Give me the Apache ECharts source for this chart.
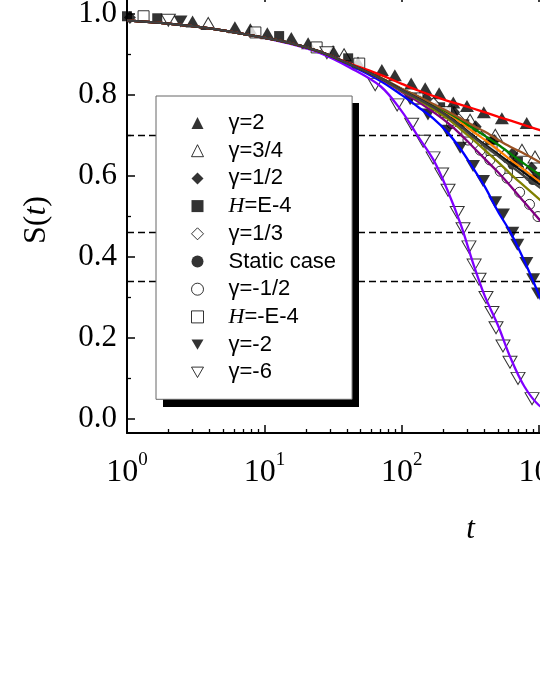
<!DOCTYPE html>
<html><head><meta charset="utf-8">
<script src="https://cdn.jsdelivr.net/npm/echarts@6/dist/echarts.min.js"></script>
<style>
html,body{margin:0;padding:0;width:540px;height:699px;overflow:hidden;background:#fff}
#c{position:absolute;left:0;top:-30px;width:900px;height:760px}
</style></head>
<body><div id="c"></div>
<script>
// ---------- data ----------
const seriesNames = ['γ=2','γ=3/4','γ=1/2','H=E-4','γ=1/3','Static case','γ=-1/2','H=-E-4','γ=-2','γ=-6'];

// fitted curves, sampled at fitT
const fitT = [1,2,4,8,15,25,42,70,100,130,170,215,270,330,400,500,620,780,1000,1300];
const fitG2    = [0.985,0.977,0.965,0.948,0.930,0.908,0.878,0.850,0.828,0.812,0.798,0.786,0.776,0.767,0.758,0.747,0.737,0.726,0.714,0.703];
const fitG34   = [0.985,0.977,0.965,0.948,0.930,0.908,0.876,0.843,0.816,0.798,0.778,0.760,0.742,0.725,0.710,0.690,0.672,0.655,0.635,0.615];
const fitG12   = [0.985,0.977,0.965,0.948,0.930,0.908,0.876,0.843,0.815,0.797,0.776,0.758,0.738,0.718,0.700,0.678,0.655,0.630,0.604,0.578];
const fitHp    = [0.985,0.977,0.965,0.948,0.930,0.908,0.876,0.843,0.814,0.795,0.773,0.755,0.732,0.710,0.690,0.665,0.640,0.615,0.587,0.560];
const fitG13   = [0.985,0.977,0.965,0.948,0.930,0.908,0.876,0.842,0.813,0.793,0.771,0.749,0.724,0.700,0.678,0.655,0.632,0.608,0.580,0.553];
const fitStat  = [0.985,0.977,0.965,0.948,0.930,0.908,0.876,0.842,0.812,0.792,0.770,0.748,0.722,0.697,0.675,0.650,0.625,0.600,0.573,0.545];
const fitHm    = [0.985,0.977,0.965,0.948,0.930,0.908,0.876,0.841,0.810,0.790,0.765,0.742,0.715,0.690,0.665,0.635,0.605,0.575,0.543,0.510];
const fitGm12  = [0.985,0.977,0.965,0.948,0.930,0.908,0.876,0.840,0.808,0.785,0.758,0.732,0.702,0.672,0.643,0.610,0.575,0.535,0.493,0.450];
const fitGm2   = [0.985,0.977,0.965,0.948,0.930,0.908,0.874,0.835,0.800,0.772,0.742,0.708,0.665,0.620,0.575,0.513,0.460,0.390,0.305,0.210];
const fitGm6   = [0.985,0.977,0.965,0.948,0.928,0.905,0.868,0.822,0.760,0.700,0.640,0.565,0.478,0.385,0.305,0.232,0.150,0.080,0.033,0.012];

// measured markers
const tG2   = [3.0,6.1,7.9,10.5,15.7,20.8,31.6,48,71.6,89,117,148,187,237,298,395,535,811];
const sG2   = [0.982,0.968,0.963,0.953,0.941,0.928,0.909,0.881,0.862,0.849,0.829,0.817,0.805,0.782,0.773,0.758,0.743,0.731];
const tG34  = [3.9,38,231,314,479,749,932];
const sG34  = [0.977,0.900,0.759,0.738,0.701,0.664,0.647];
const tG12  = [1.05,150,240,345,470,640,880];
const sG12  = [0.992,0.792,0.758,0.722,0.688,0.655,0.620];
const tHp   = [1,1.66,12.8,40.7,190,285,440,700,950];
const sHp   = [0.995,0.990,0.946,0.891,0.770,0.728,0.685,0.635,0.598];
const tG13  = [170,260,380,560,820];
const sG13  = [0.778,0.738,0.695,0.650,0.605];
const tStat = [200,300,450,640,900];
const sStat = [0.758,0.712,0.668,0.628,0.590];
const tGm12 = [130,230,303,372,437,520,583,720,850,980];
const sGm12 = [0.790,0.730,0.689,0.664,0.640,0.612,0.595,0.560,0.530,0.500];
const tHm   = [1.32,8.6,24,49,130,210,300,450,700];
const sHm   = [0.995,0.955,0.918,0.878,0.792,0.758,0.710,0.665,0.610];
const tGm2  = [2.45,115,155,214,266,330,390,478,545,637,693,806,903,980];
const sGm2  = [0.982,0.790,0.752,0.712,0.670,0.625,0.588,0.535,0.505,0.460,0.430,0.385,0.345,0.310];
const tGm6  = [2.0,28.5,64,92.5,118,143,169,195,217,253,279,308,336,365,410,453,485,545,613,701,887];
const sGm6  = [0.985,0.905,0.826,0.776,0.728,0.686,0.645,0.605,0.565,0.510,0.470,0.425,0.380,0.345,0.300,0.263,0.225,0.180,0.140,0.100,0.050];

const dashedLevels = [0.698, 0.463, 0.338];
const yMajorTicks = [0, 0.2, 0.4, 0.6, 0.8, 1.0];
const yMinorTicks = [0.1, 0.3, 0.5, 0.7, 0.9];
const xMinorTicks = [];
for (let d = 1; d <= 10000; d *= 10) for (let k = 2; k <= 9; k++) xMinorTicks.push(k * d);

// ---------- styling ----------
const DOWN = 'path://M0,0L2,0L1,1.732Z';
const markerDefs = [
  {t:tG2,  s:sG2,  sym:'triangle', size:[14,12],   open:false},
  {t:tG34, s:sG34, sym:'triangle', size:[14,12],   open:true},
  {t:tG12, s:sG12, sym:'diamond',  size:[12,13],   open:false},
  {t:tHp,  s:sHp,  sym:'rect',     size:10,        open:false},
  {t:tG13, s:sG13, sym:'diamond',  size:[12,13],   open:true},
  {t:tStat,s:sStat,sym:'circle',   size:10,        open:false},
  {t:tGm12,s:sGm12,sym:'circle',   size:10,        open:true},
  {t:tHm,  s:sHm,  sym:'rect',     size:11,        open:true},
  {t:tGm2, s:sGm2, sym:DOWN,       size:[14,12],   open:false},
  {t:tGm6, s:sGm6, sym:DOWN,       size:[14,12],   open:true}
];
// draw order of fit lines (last on top)
const fitDefs = [
  {s:fitGm6, c:'#8000ff'},
  {s:fitGm2, c:'#0000ff'},
  {s:fitGm12,c:'#800080'},
  {s:fitHm,  c:'#808000'},
  {s:fitHp,  c:'#ff8000'},
  {s:fitG12, c:'#008000'},
  {s:fitG34, c:'#9a5223'},
  {s:fitG2,  c:'#ff0000'},
  {s:fitG13, c:'#111111'},
  {s:fitStat,c:'#404040'}
];

const series = [];
markerDefs.forEach((m, i) => {
  series.push({
    type:'scatter', name: seriesNames[i], z:2,
    symbol: m.sym, symbolSize: m.size,
    itemStyle: m.open ? {color:'#fff', borderColor:'#000', borderWidth:1} : {color:'#000'},
    data: m.t.map((t, j) => [t, m.s[j]])
  });
});
fitDefs.forEach((f, i) => {
  const s = {
    type:'line', name:'fit' + i, z:3, symbol:'none', smooth:0.35,
    lineStyle:{color:f.c, width:2.3}, itemStyle:{color:f.c},
    data: fitT.map((t, j) => [t, f.s[j]])
  };
  if (i === 0) {
    s.markLine = {
      silent:true, symbol:'none', label:{show:false}, z:1,
      lineStyle:{color:'#000', width:1.3, type:[7,4]},
      data: dashedLevels.map(v => ({yAxis:v}))
    };
  }
  series.push(s);
});

const serif = 'Liberation Serif';
const logAxisBase = {type:'log', logBase:10, min:1, max:100000, splitLine:{show:false}};
const chart = echarts.init(document.getElementById('c'), null, {renderer:'canvas'});
chart.setOption({
  animation:false,
  backgroundColor:'#fff',
  grid:{left:127, top:24, width:687, height:439},
  // solid drop shadow behind the legend box
  graphic:[{type:'rect', z:4, silent:true,
    shape:{x:163, y:133, width:196, height:304}, style:{fill:'#000'}}],
  legend:{
    orient:'vertical', left:156, top:126, z:5,
    padding:[16,16,16,35], itemWidth:12, itemHeight:12, itemGap:5.7,
    backgroundColor:'#fff', borderColor:'#666', borderWidth:1,
    selectedMode:false,
    itemStyle:{borderWidth:1},
    textStyle:{fontFamily:'Liberation Sans', fontSize:22, lineHeight:22, color:'#000', padding:[0,0,0,20],
      rich:{i:{fontFamily:serif, fontStyle:'italic', fontSize:22, lineHeight:22, color:'#000'}}},
    formatter: n => n.charAt(0) === 'H' ? '{i|H}' + n.slice(1) : n,
    data: seriesNames
  },
  xAxis:[
    Object.assign({}, logAxisBase, {
      position:'bottom',
      axisLine:{onZero:false, lineStyle:{color:'#000', width:2}},
      axisTick:{inside:true, length:8, lineStyle:{color:'#000', width:1.5}},
      axisLabel:{margin:18, color:'#000',
        formatter: v => '{b|10}{s|' + Math.round(Math.log10(v)) + '}',
        rich:{
          b:{fontFamily:serif, fontSize:32, lineHeight:38, verticalAlign:'bottom', color:'#000'},
          s:{fontFamily:serif, fontSize:19, lineHeight:19, verticalAlign:'top', color:'#000'}
        }},
      name:'t', nameLocation:'middle', nameGap:81,
      nameTextStyle:{fontFamily:serif, fontStyle:'italic', fontSize:31, color:'#000'}
    }),
    Object.assign({}, logAxisBase, {
      position:'bottom',
      axisLine:{show:false, onZero:false},
      axisTick:{inside:true, length:4, customValues:xMinorTicks, lineStyle:{color:'#000', width:1.3}},
      axisLabel:{show:false}
    }),
    Object.assign({}, logAxisBase, {
      position:'top',
      axisLine:{onZero:false, lineStyle:{color:'#000', width:2}},
      axisTick:{inside:true, length:8, lineStyle:{color:'#000', width:1.5}},
      axisLabel:{show:false}
    }),
    Object.assign({}, logAxisBase, {
      position:'top',
      axisLine:{show:false, onZero:false},
      axisTick:{inside:true, length:4, customValues:xMinorTicks, lineStyle:{color:'#000', width:1.3}},
      axisLabel:{show:false}
    })
  ],
  yAxis:[
    {type:'value', min:-0.035, max:1.05, position:'left', splitLine:{show:false},
     axisLine:{show:true, onZero:false, lineStyle:{color:'#000', width:2}},
     axisTick:{inside:true, length:8, customValues:yMajorTicks, lineStyle:{color:'#000', width:1.5}},
     axisLabel:{customValues:yMajorTicks, formatter: v => v.toFixed(1), fontFamily:serif, fontSize:31, color:'#000', margin:10},
     name:'{n|S(}{i|t}{n|)}', nameLocation:'middle', nameRotate:90, nameGap:74,
     nameTextStyle:{padding:[0,13,0,0], rich:{
       n:{fontFamily:serif, fontSize:32, color:'#000'},
       i:{fontFamily:serif, fontStyle:'italic', fontSize:32, color:'#000'}}}
    },
    {type:'value', min:-0.035, max:1.05, position:'left', splitLine:{show:false},
     axisLine:{show:false, onZero:false},
     axisTick:{inside:true, length:4, customValues:yMinorTicks, lineStyle:{color:'#000', width:1.3}},
     axisLabel:{show:false}
    }
  ],
  series: series
});
</script>
</body></html>
